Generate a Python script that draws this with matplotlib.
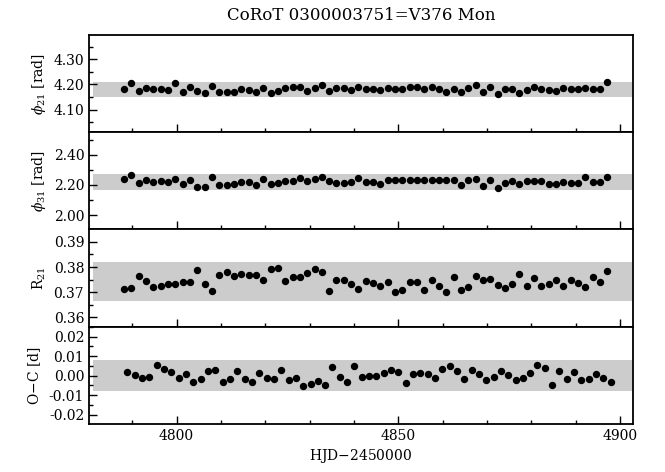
import matplotlib
matplotlib.use("Agg")
import matplotlib.pyplot as plt
from matplotlib.ticker import MultipleLocator, FormatStrFormatter

# HJD-2450000 of the Fourier-parameter bins
hjd = [4788.20, 4789.85, 4791.50, 4793.15, 4794.80, 4796.45, 4798.10, 4799.75,
       4801.40, 4803.05, 4804.70, 4806.35, 4808.00, 4809.65, 4811.30, 4812.95,
       4814.60, 4816.25, 4817.90, 4819.55, 4821.20, 4822.85, 4824.50, 4826.15,
       4827.80, 4829.45, 4831.10, 4832.75, 4834.40, 4836.05, 4837.70, 4839.35,
       4841.00, 4842.65, 4844.30, 4845.95, 4847.60, 4849.25, 4850.90, 4852.55,
       4854.20, 4855.85, 4857.50, 4859.15, 4860.80, 4862.45, 4864.10, 4865.75,
       4867.40, 4869.05, 4870.70, 4872.35, 4874.00, 4875.65, 4877.30, 4878.95,
       4880.60, 4882.25, 4883.90, 4885.55, 4887.20, 4888.85, 4890.50, 4892.15,
       4893.80, 4895.45, 4897.10]

# O-C times (slightly shifted epochs)
hjd_oc = [4788.95, 4790.60, 4792.25, 4793.90, 4795.55, 4797.20, 4798.85, 4800.50,
          4802.15, 4803.80, 4805.45, 4807.10, 4808.75, 4810.40, 4812.05, 4813.70,
          4815.35, 4817.00, 4818.65, 4820.30, 4821.95, 4823.60, 4825.25, 4826.90,
          4828.55, 4830.20, 4831.85, 4833.50, 4835.15, 4836.80, 4838.45, 4840.10,
          4841.75, 4843.40, 4845.05, 4846.70, 4848.35, 4850.00, 4851.65, 4853.30,
          4854.95, 4856.60, 4858.25, 4859.90, 4861.55, 4863.20, 4864.85, 4866.50,
          4868.15, 4869.80, 4871.45, 4873.10, 4874.75, 4876.40, 4878.05, 4879.70,
          4881.35, 4883.00, 4884.65, 4886.30, 4887.95, 4889.60, 4891.25, 4892.90,
          4894.55, 4896.20, 4897.85]

phi21 = [4.180, 4.204, 4.175, 4.184, 4.183, 4.183, 4.176, 4.204, 4.169, 4.189,
         4.175, 4.165, 4.195, 4.169, 4.169, 4.171, 4.183, 4.179, 4.169, 4.184,
         4.167, 4.173, 4.184, 4.188, 4.189, 4.172, 4.187, 4.196, 4.175, 4.184,
         4.185, 4.176, 4.191, 4.180, 4.180, 4.176, 4.185, 4.183, 4.181, 4.191,
         4.189, 4.180, 4.191, 4.183, 4.168, 4.180, 4.171, 4.184, 4.199, 4.169,
         4.191, 4.163, 4.180, 4.180, 4.167, 4.177, 4.188, 4.180, 4.179, 4.175,
         4.184, 4.183, 4.183, 4.187, 4.183, 4.183, 4.209]

phi31 = [2.242, 2.267, 2.213, 2.233, 2.222, 2.224, 2.218, 2.238, 2.207, 2.231,
         2.187, 2.187, 2.256, 2.198, 2.200, 2.204, 2.220, 2.220, 2.200, 2.240,
         2.204, 2.211, 2.227, 2.227, 2.249, 2.224, 2.238, 2.251, 2.227, 2.211,
         2.211, 2.220, 2.244, 2.218, 2.218, 2.209, 2.233, 2.233, 2.233, 2.233,
         2.233, 2.233, 2.233, 2.233, 2.233, 2.233, 2.198, 2.233, 2.240, 2.196,
         2.233, 2.182, 2.211, 2.224, 2.209, 2.224, 2.224, 2.224, 2.204, 2.207,
         2.220, 2.216, 2.216, 2.251, 2.218, 2.218, 2.256]

r21 = [0.3713, 0.3715, 0.3765, 0.3744, 0.3720, 0.3725, 0.3732, 0.3731, 0.3741, 0.3740,
       0.3788, 0.3732, 0.3703, 0.3767, 0.3781, 0.3763, 0.3773, 0.3767, 0.3768, 0.3749,
       0.3792, 0.3795, 0.3745, 0.3761, 0.3760, 0.3775, 0.3791, 0.3779, 0.3703, 0.3747,
       0.3747, 0.3733, 0.3712, 0.3743, 0.3737, 0.3725, 0.3741, 0.3701, 0.3708, 0.3741,
       0.3741, 0.3709, 0.3748, 0.3723, 0.3700, 0.3760, 0.3707, 0.3720, 0.3765, 0.3749,
       0.3751, 0.3729, 0.3715, 0.3732, 0.3771, 0.3725, 0.3757, 0.3724, 0.3733, 0.3749,
       0.3724, 0.3747, 0.3737, 0.3721, 0.3759, 0.3741, 0.3783]

o_c = [0.0021, 0.0003, -0.0014, -0.0007, 0.0055, 0.0036, 0.0017, -0.0012, 0.0007, -0.0032,
       -0.0015, 0.0024, 0.0029, -0.0032, -0.0017, 0.0026, -0.0015, -0.0034, 0.0012, -0.0010,
       -0.0015, 0.0029, -0.0021, -0.0012, -0.0053, -0.0041, -0.0026, -0.0050, 0.0043, -0.0009,
       -0.0031, 0.0048, -0.0009, 0.0000, 0.0000, 0.0015, 0.0031, 0.0017, -0.0039, 0.0007,
       0.0015, 0.0007, -0.0010, 0.0036, 0.0050, 0.0022, -0.0017, 0.0029, 0.0007, -0.0024,
       -0.0005, 0.0022, 0.0002, -0.0021, -0.0012, 0.0012, 0.0053, 0.0038, -0.0050, 0.0026,
       -0.0015, 0.0017, -0.0022, -0.0015, 0.0009, -0.0010, -0.0032]

# panel settings: (times, values, label, ylim, band, major, minor)
panels = [
    (hjd, phi21, r'$\phi_{21}$ [rad]', (4.01, 4.396), (4.149, 4.209), 0.10, 0.05),
    (hjd, phi31, r'$\phi_{31}$ [rad]', (1.905, 2.55), (2.167, 2.273), 0.20, 0.10),
    (hjd, r21, r'R$_{21}$', (0.3563, 0.3949), (0.3667, 0.3820), 0.01, 0.005),
    (hjd_oc, o_c, 'O$-$C [d]', (-0.0248, 0.0251), (-0.0080, 0.0080), 0.01, 0.005),
]

plt.rcParams['font.family'] = 'DejaVu Serif'
plt.rcParams['mathtext.fontset'] = 'dejavuserif'

fig, axes = plt.subplots(4, 1, sharex=True, figsize=(6.65, 4.72), dpi=100)
fig.subplots_adjust(left=0.134, right=0.952, top=0.926, bottom=0.1017, hspace=0)

for ax, (t, y, lab, ylim, band, maj, mnr) in zip(axes, panels):
    ax.fill_between([4781.2, 4902.6], band[0], band[1], color='#cccccc', lw=0, zorder=1)
    ax.plot(t, y, 'o', color='black', ms=4.3, zorder=3)
    ax.set_ylim(*ylim)
    ax.set_ylabel(lab, fontsize=10)
    ax.yaxis.set_major_locator(MultipleLocator(maj))
    ax.yaxis.set_minor_locator(MultipleLocator(mnr))
    ax.yaxis.set_major_formatter(FormatStrFormatter('%.2f'))
    ax.tick_params(axis='both', which='major', direction='in', length=6, width=1, labelsize=10)
    ax.tick_params(axis='both', which='minor', direction='in', length=3, width=1)
    for s in ax.spines.values():
        s.set_linewidth(1.3)

axes[0].set_xlim(4780.3, 4902.9)
axes[-1].xaxis.set_major_locator(MultipleLocator(50))
axes[-1].xaxis.set_minor_locator(MultipleLocator(10))
axes[-1].set_xlabel('HJD$-$2450000', fontsize=10, labelpad=3)

fig.suptitle('CoRoT 0300003751=V376 Mon', x=0.543, y=0.985, fontsize=12)

fig.savefig('out.png', dpi=100)
